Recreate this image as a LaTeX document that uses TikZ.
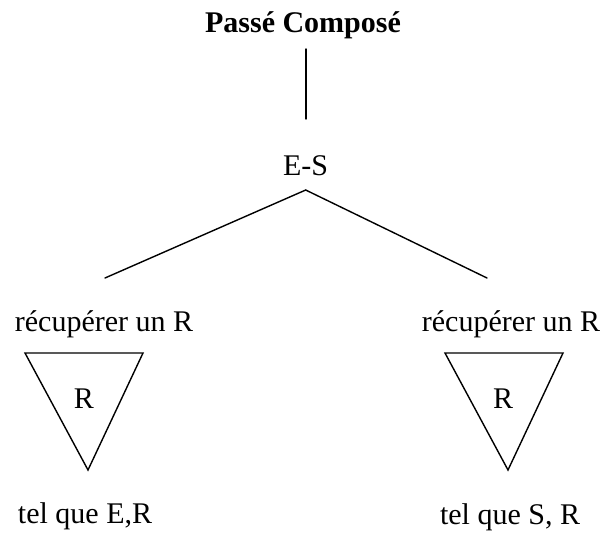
\documentclass[tikz,border=0pt]{standalone}
\usepackage{fontspec}
\setmainfont{Liberation Serif}
\begin{document}
\begin{tikzpicture}[x=1pt,y=-1pt,
  lbl/.style={inner sep=0pt,anchor=base,font=\fontsize{30}{36}\selectfont},
  ln/.style={line width=1.4pt,line cap=round,line join=miter}]
\useasboundingbox (0,0) rectangle (608,536);
% texts
\node[lbl,font=\fontsize{30}{36}\selectfont\bfseries] (title) at (303,32) {Passé Composé};
\node[lbl] (es) at (305.5,175) {E-S};
\node[lbl] (recL) at (104,331) {récupérer un R};
\node[lbl] (recR) at (511,331) {récupérer un R};
\node[lbl] (rL) at (84,408) {R};
\node[lbl] (rR) at (503,408) {R};
\node[lbl] (telL) at (85,523) {tel que E,R};
\node[lbl] (telR) at (510,524) {tel que S, R};
% connector ends
\coordinate (v1) at (306,49);
\coordinate (v2) at (306,119);
\coordinate (apex) at (305.7,190);
\coordinate (endL) at (105,278);
\coordinate (endR) at (487,278);
% triangle corners
\coordinate (tL1) at (25,353);
\coordinate (tL2) at (143,353);
\coordinate (tL3) at (88,470);
\coordinate (tR1) at (445,353);
\coordinate (tR2) at (563,353);
\coordinate (tR3) at (508,470);
% lines
\draw[ln] (v1) -- (v2);
\draw[ln] (endL) -- (apex) -- (endR);
\draw[ln] (tL1) -- (tL2) -- (tL3) -- cycle;
\draw[ln] (tR1) -- (tR2) -- (tR3) -- cycle;
\end{tikzpicture}
\end{document}
